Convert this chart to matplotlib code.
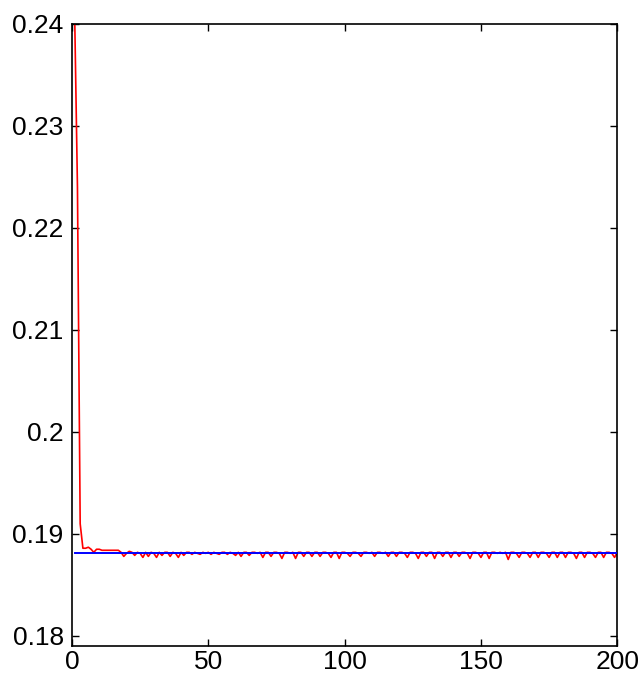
import numpy as np
import matplotlib
matplotlib.use('Agg')
from matplotlib import pyplot as plt

plt.rcParams['font.family'] = ['Liberation Sans', 'DejaVu Sans']

# iteration index and red curve values
iters = list(range(1, 201))
red_vals = [
    0.2405, 0.2240, 0.1910, 0.1886, 0.1886, 0.1887, 0.1885, 0.1882, 0.1885, 0.1885,
    0.1884, 0.1884, 0.1884, 0.1884, 0.1884, 0.1884, 0.1884, 0.1882, 0.1878, 0.1881,
    0.1883, 0.1882, 0.1879, 0.1882, 0.1881, 0.1877, 0.1882, 0.1878, 0.1882, 0.1881,
    0.1877, 0.1882, 0.1879, 0.1882, 0.1882, 0.1878, 0.1882, 0.1881, 0.1877, 0.1882,
    0.1879, 0.1882, 0.1882, 0.1880, 0.1882, 0.1881, 0.1880, 0.1882, 0.1881, 0.1882,
    0.1880, 0.1882, 0.1881, 0.1880, 0.1882, 0.1882, 0.1880, 0.1882, 0.1881, 0.1879,
    0.1882, 0.1878, 0.1882, 0.1882, 0.1879, 0.1882, 0.1882, 0.1881, 0.1882, 0.1877,
    0.1882, 0.1882, 0.1878, 0.1882, 0.1882, 0.1881, 0.1876, 0.1882, 0.1882, 0.1881,
    0.1882, 0.1876, 0.1882, 0.1882, 0.1878, 0.1882, 0.1882, 0.1878, 0.1882, 0.1882,
    0.1878, 0.1882, 0.1882, 0.1881, 0.1877, 0.1882, 0.1882, 0.1876, 0.1882, 0.1882,
    0.1881, 0.1878, 0.1882, 0.1882, 0.1881, 0.1878, 0.1882, 0.1882, 0.1881, 0.1882,
    0.1878, 0.1882, 0.1882, 0.1881, 0.1882, 0.1878, 0.1882, 0.1882, 0.1878, 0.1882,
    0.1882, 0.1881, 0.1877, 0.1882, 0.1882, 0.1881, 0.1876, 0.1882, 0.1882, 0.1878,
    0.1882, 0.1882, 0.1876, 0.1882, 0.1882, 0.1878, 0.1882, 0.1882, 0.1877, 0.1882,
    0.1882, 0.1878, 0.1882, 0.1882, 0.1881, 0.1876, 0.1882, 0.1882, 0.1881, 0.1877,
    0.1882, 0.1882, 0.1876, 0.1882, 0.1882, 0.1881, 0.1882, 0.1881, 0.1882, 0.1875,
    0.1882, 0.1882, 0.1881, 0.1877, 0.1882, 0.1882, 0.1881, 0.1877, 0.1882, 0.1882,
    0.1877, 0.1882, 0.1882, 0.1881, 0.1877, 0.1882, 0.1882, 0.1877, 0.1882, 0.1882,
    0.1877, 0.1882, 0.1882, 0.1881, 0.1876, 0.1882, 0.1882, 0.1877, 0.1882, 0.1882,
    0.1881, 0.1877, 0.1882, 0.1882, 0.1877, 0.1882, 0.1882, 0.1881, 0.1877, 0.1882,
]
blue_x = [1, 200]
blue_vals = [0.1881, 0.1881]

xticks = [0, 50, 100, 150, 200]
yticks = [0.18, 0.19, 0.20, 0.21, 0.22, 0.23, 0.24]
ytick_labels = ['0.18', '0.19', '0.2', '0.21', '0.22', '0.23', '0.24']

fig = plt.figure(figsize=(6.4, 6.85), dpi=100)
ax = fig.add_axes([0.1125, 0.057, 0.852, 0.908])

ax.plot(iters, red_vals, color='#ff0000', lw=1.2, zorder=2)
ax.plot(blue_x, blue_vals, color='#0000ff', lw=1.4, zorder=3)

ax.set_xlim(0, 200)
ax.set_ylim(0.17902, 0.24)
ax.set_xticks(xticks)
ax.set_xticklabels([str(t) for t in xticks])
ax.set_yticks(yticks)
ax.set_yticklabels(ytick_labels)
ax.tick_params(direction='in', length=5, width=1, labelsize=19,
               top=True, right=True)
ax.tick_params(axis='y', pad=6)
ax.tick_params(axis='x', pad=3)
for s in ax.spines.values():
    s.set_linewidth(1.2)

fig.savefig('out.png', dpi=100)
